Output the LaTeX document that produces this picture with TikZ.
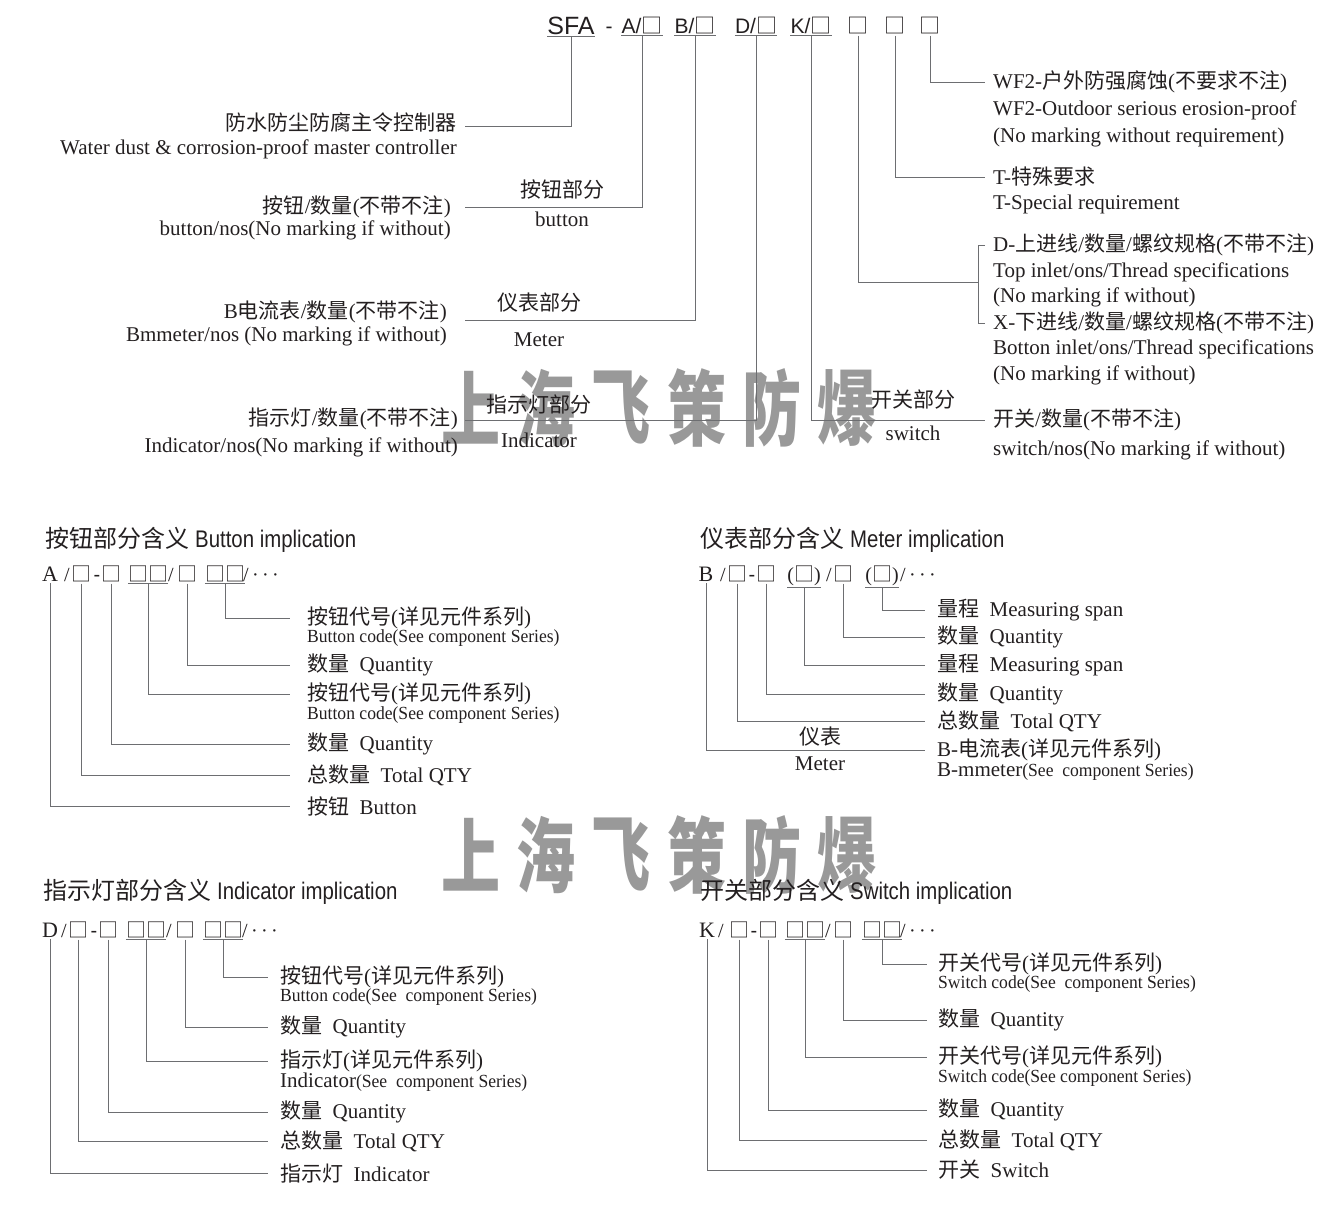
\documentclass[tikz,border=0pt]{standalone}
\usepackage{fontspec}
\setmainfont{Liberation Serif}
\newfontfamily\cjk{Noto Sans CJK SC}
\newfontfamily\wmfont{Noto Sans CJK SC}[FakeStretch=0.72]
\newfontfamily\narrowserif{Liberation Serif}[FakeStretch=0.95]
\newfontfamily\narrowsans{Liberation Sans}[FakeStretch=0.85]
\newfontfamily\plainsans{Liberation Sans}
\newcommand{\zh}[1]{{\cjk #1}}
\definecolor{txt}{HTML}{231F20}
\definecolor{ln}{HTML}{6D6E71}

\begin{document}
\begin{tikzpicture}[x=1pt, y=-1pt,
    lbl/.style={inner sep=0pt, text=txt, font=\fontsize{21}{24}\selectfont},
    sub/.style={inner sep=0pt, text=txt, font=\narrowserif\fontsize{18.5}{20}\selectfont},
    ttl/.style={inner sep=0pt, anchor=west, text=txt, font=\fontsize{24}{28}\selectfont},
    code/.style={anchor=base, inner xsep=0pt, inner ysep=2pt, text=txt, font=\fontsize{20}{24}\selectfont},
    topcode/.style={code, font=\plainsans\fontsize{21}{24}\selectfont},
    lead/.style={draw=ln, line width=1pt},
    wmark/.style={inner sep=0pt, text=black!40, font=\wmfont\bfseries\fontsize{82}{82}\selectfont}
]
\useasboundingbox (0,0) rectangle (1340,1205);

% watermark
\foreach \ch [count=\i from 0] in {上,海,飞,策,防,爆} {
  \node[wmark] (wa\i) at (471+75.2*\i,408) {\ch};
  \node[wmark] (wb\i) at (471+75.2*\i,855) {\ch};
}

% type code
\node[topcode, font=\plainsans\fontsize{25}{28}\selectfont] (sfa) at (571,34) {SFA};
\node[topcode] (dash) at (609,33) {-};
\node[topcode] (ca) at (642,33) {A/\zh{□}};
\node[topcode] (cb) at (695,33) {B/\zh{□}};
\node[topcode] (cd) at (756,33) {D/\zh{□}};
\node[topcode] (ck) at (811,33) {K/\zh{□}};
\node[topcode] (bx1) at (858,33) {\zh{□}};
\node[topcode] (bx2) at (895,33) {\zh{□}};
\node[topcode] (bx3) at (930,33) {\zh{□}};
\draw[lead] (sfa.south west) -- (sfa.south east);
\draw[lead] (ca.south west) -- (ca.south east);
\draw[lead] (cb.south west) -- (cb.south east);
\draw[lead] (cd.south west) -- (cd.south east);
\draw[lead] (ck.south west) -- (ck.south east);

% left side
\node[lbl, anchor=east] (mst) at (457,123) {\zh{防水防尘防腐主令控制器}};
\node[lbl, anchor=east] (mste) at (457,149) {Water dust \& corrosion-proof master controller};
\node[lbl, anchor=east] (btn) at (451,207) {\zh{按钮}/\zh{数量}(\zh{不带不注})};
\node[lbl, anchor=east] (btne) at (451,230) {button/nos(No marking if without)};
\node[lbl, anchor=east] (mtr) at (447,312) {B\zh{电流表}/\zh{数量}(\zh{不带不注})};
\node[lbl, anchor=east] (mtre) at (447,336) {Bmmeter/nos (No marking if without)};
\node[lbl, anchor=east] (ind) at (458,419) {\zh{指示灯}/\zh{数量}(\zh{不带不注})};
\node[lbl, anchor=east] (inde) at (458,447) {Indicator/nos(No marking if without)};

\node[lbl] (btnpart) at (562,189) {\zh{按钮部分}};
\node[lbl] (btnparte) at (562,219) {button};
\node[lbl] (mtrpart) at (539,303) {\zh{仪表部分}};
\node[lbl] (mtrparte) at (539,340) {Meter};
\node[lbl] (indpart) at (539,405) {\zh{指示灯部分}};
\node[lbl] (indparte) at (539,440) {Indicator};
\node[lbl] (swpart) at (913,400) {\zh{开关部分}};
\node[lbl] (swparte) at (913,433) {switch};

% right side
\node[lbl, anchor=west] (wf) at (993,82) {WF2-\zh{户外防强腐蚀}(\zh{不要求不注})};
\node[lbl, anchor=west] (wfe) at (993,110) {WF2-Outdoor serious erosion-proof};
\node[lbl, anchor=west] (wfe2) at (993,137) {(No marking without requirement)};
\node[lbl, anchor=west] (sp) at (993,177) {T-\zh{特殊要求}};
\node[lbl, anchor=west] (spe) at (993,204) {T-Special requirement};
\node[lbl, anchor=west] (dt) at (993,245) {D-\zh{上进线}/\zh{数量}/\zh{螺纹规格}(\zh{不带不注})};
\node[lbl, anchor=west] (dte) at (993,272) {Top inlet/ons/Thread specifications};
\node[lbl, anchor=west] (dte2) at (993,297) {(No marking if without)};
\node[lbl, anchor=west] (xb) at (993,323) {X-\zh{下进线}/\zh{数量}/\zh{螺纹规格}(\zh{不带不注})};
\node[lbl, anchor=west] (xbe) at (993,349) {Botton inlet/ons/Thread specifications};
\node[lbl, anchor=west] (xbe2) at (993,375) {(No marking if without)};
\node[lbl, anchor=west] (sw) at (993,420) {\zh{开关}/\zh{数量}(\zh{不带不注})};
\node[lbl, anchor=west] (swe) at (993,450) {switch/nos(No marking if without)};

\coordinate (mstend) at (465,126);
\coordinate (btnend) at (465,207);
\coordinate (mtrend) at (465,320);
\coordinate (indend) at (465,420);
\coordinate (brk) at (978,282);
\draw[lead] (sfa.south) |- (mstend);
\draw[lead] (ca.south) |- (btnend);
\draw[lead] (cb.south) |- (mtrend);
\draw[lead] (cd.south) |- (indend);
\draw[lead, shorten >=8pt] (ck.south) |- (sw.west);
\draw[lead] (bx1.south) |- (brk);
\draw[lead, shorten >=8pt] (bx2.south) |- (sp.west);
\draw[lead, shorten >=8pt] (bx3.south) |- (wf.west);
\draw[lead] ([xshift=-8pt]dt.west) -- ([xshift=-15pt]dt.west) -- ([xshift=-15pt]xb.west) -- ([xshift=-8pt]xb.west);

% button implication
\node[ttl] (bttl) at (45,540) {\zh{按钮部分含义} {\narrowsans Button implication}};
\node[code, font=\fontsize{22}{24}\selectfont] (ba) at (50,581) {A};
\node[code] (bs1) at (67,581) {/};
\node[code] (bb1) at (81,581) {\zh{□}};
\node[code, font=\plainsans\fontsize{20}{24}\selectfont] (bh) at (97,581) {-};
\node[code] (bb2) at (111,581) {\zh{□}};
\node[code] (bb3) at (148,581) {\zh{□□}};
\node[code] (bs2) at (171,581) {/};
\node[code] (bb4) at (187,581) {\zh{□}};
\node[code] (bb5) at (225,581) {\zh{□□}};
\node[code] (bs3) at (261,581) {/\,·\,·\,·};
\draw[lead] (bb3.south west) -- (bb3.south east);
\draw[lead] (bb5.south west) -- (bb5.south east);
\node[lbl, anchor=west] (bl1) at (307,618) {\zh{按钮代号}(\zh{详见元件系列})};
\node[sub, anchor=west] (bl1e) at (307,638) {Button code(See component Series)};
\node[lbl, anchor=west] (bl2) at (307,665) {\zh{数量}\enspace Quantity};
\node[lbl, anchor=west] (bl3) at (307,694) {\zh{按钮代号}(\zh{详见元件系列})};
\node[sub, anchor=west] (bl3e) at (307,715) {Button code(See component Series)};
\node[lbl, anchor=west] (bl4) at (307,744) {\zh{数量}\enspace Quantity};
\node[lbl, anchor=west] (bl5) at (307,775) {\zh{总数量}\enspace Total QTY};
\node[lbl, anchor=west] (bl6) at (307,806) {\zh{按钮}\enspace Button};
\draw[lead, shorten >=17pt] (bb5.south) |- (bl1.west);
\draw[lead, shorten >=17pt] (bb4.south) |- (bl2.west);
\draw[lead, shorten >=17pt] (bb3.south) |- (bl3.west);
\draw[lead, shorten >=17pt] (bb2.south) |- (bl4.west);
\draw[lead, shorten >=17pt] (bb1.south) |- (bl5.west);
\draw[lead, shorten >=17pt] (ba.south) |- (bl6.west);

% meter implication
\node[ttl] (mttl) at (700,540) {\zh{仪表部分含义} {\narrowsans Meter implication}};
\node[code, font=\fontsize{22}{24}\selectfont] (ma) at (706,581) {B};
\node[code] (ms1) at (723,581) {/};
\node[code] (mb1) at (737,581) {\zh{□}};
\node[code, font=\plainsans\fontsize{20}{24}\selectfont] (mh) at (752,581) {-};
\node[code] (mb2) at (766,581) {\zh{□}};
\node[code] (mb3) at (804,581) {(\zh{□})};
\node[code] (ms2) at (829,581) {/};
\node[code] (mb4) at (843,581) {\zh{□}};
\node[code] (mb5) at (882,581) {(\zh{□})};
\node[code] (ms3) at (918,581) {/\,·\,·\,·};
\draw[lead] (mb3.south west) -- (mb3.south east);
\draw[lead] (mb5.south west) -- (mb5.south east);
\node[lbl, anchor=west] (ml1) at (937,610) {\zh{量程}\enspace Measuring span};
\node[lbl, anchor=west] (ml2) at (937,637) {\zh{数量}\enspace Quantity};
\node[lbl, anchor=west] (ml3) at (937,665) {\zh{量程}\enspace Measuring span};
\node[lbl, anchor=west] (ml4) at (937,694) {\zh{数量}\enspace Quantity};
\node[lbl, anchor=west] (ml5) at (937,721) {\zh{总数量}\enspace Total QTY};
\node[lbl, anchor=west] (ml6) at (937,750) {B-\zh{电流表}(\zh{详见元件系列})};
\node[sub, anchor=west] (ml6e) at (937,772) {{\normalfont\fontsize{21}{24}\selectfont B-mmeter}(See\ \ component Series)};
\node[lbl] (mlm) at (820,737) {\zh{仪表}};
\node[lbl] (mlme) at (820,764) {Meter};
\draw[lead, shorten >=12pt] (mb5.south) |- (ml1.west);
\draw[lead, shorten >=12pt] (mb4.south) |- (ml2.west);
\draw[lead, shorten >=12pt] (mb3.south) |- (ml3.west);
\draw[lead, shorten >=12pt] (mb2.south) |- (ml4.west);
\draw[lead, shorten >=12pt] (mb1.south) |- (ml5.west);
\draw[lead, shorten >=12pt] (ma.south) |- (ml6.west);

% indicator implication
\node[ttl] (ittl) at (43,892) {\zh{指示灯部分含义} {\narrowsans Indicator implication}};
\node[code, font=\fontsize{22}{24}\selectfont] (ia) at (50,937) {D};
\node[code] (is1) at (64,937) {/};
\node[code] (ib1) at (78,937) {\zh{□}};
\node[code, font=\plainsans\fontsize{20}{24}\selectfont] (ih) at (94,937) {-};
\node[code] (ib2) at (108,937) {\zh{□}};
\node[code] (ib3) at (146,937) {\zh{□□}};
\node[code] (is2) at (169,937) {/};
\node[code] (ib4) at (185,937) {\zh{□}};
\node[code] (ib5) at (223,937) {\zh{□□}};
\node[code] (is3) at (260,937) {/\,·\,·\,·};
\draw[lead] (ib3.south west) -- (ib3.south east);
\draw[lead] (ib5.south west) -- (ib5.south east);
\node[lbl, anchor=west] (il1) at (280,977) {\zh{按钮代号}(\zh{详见元件系列})};
\node[sub, anchor=west] (il1e) at (280,997) {Button code(See\ \ component Series)};
\node[lbl, anchor=west] (il2) at (280,1027) {\zh{数量}\enspace Quantity};
\node[lbl, anchor=west] (il3) at (280,1061) {\zh{指示灯}(\zh{详见元件系列})};
\node[sub, anchor=west] (il3e) at (280,1082) {{\normalfont\fontsize{21}{24}\selectfont Indicator}(See\ \ component Series)};
\node[lbl, anchor=west] (il4) at (280,1112) {\zh{数量}\enspace Quantity};
\node[lbl, anchor=west] (il5) at (280,1141) {\zh{总数量}\enspace Total QTY};
\node[lbl, anchor=west] (il6) at (280,1173) {\zh{指示灯}\enspace Indicator};
\draw[lead, shorten >=12pt] (ib5.south) |- (il1.west);
\draw[lead, shorten >=12pt] (ib4.south) |- (il2.west);
\draw[lead, shorten >=12pt] (ib3.south) |- (il3.west);
\draw[lead, shorten >=12pt] (ib2.south) |- (il4.west);
\draw[lead, shorten >=12pt] (ib1.south) |- (il5.west);
\draw[lead, shorten >=12pt] (ia.south) |- (il6.west);

% switch implication
\node[ttl] (sttl) at (700,892) {\zh{开关部分含义} {\narrowsans Switch implication}};
\node[code, font=\fontsize{22}{24}\selectfont] (sa) at (707,937) {K};
\node[code] (ss1) at (721,937) {/};
\node[code] (sb1) at (739,937) {\zh{□}};
\node[code, font=\plainsans\fontsize{20}{24}\selectfont] (sh) at (754,937) {-};
\node[code] (sb2) at (768,937) {\zh{□}};
\node[code] (sb3) at (805,937) {\zh{□□}};
\node[code] (ss2) at (828,937) {/};
\node[code] (sb4) at (843,937) {\zh{□}};
\node[code] (sb5) at (882,937) {\zh{□□}};
\node[code] (ss3) at (918,937) {/\,·\,·\,·};
\draw[lead] (sb3.south west) -- (sb3.south east);
\draw[lead] (sb5.south west) -- (sb5.south east);
\node[lbl, anchor=west] (sl1) at (938,964) {\zh{开关代号}(\zh{详见元件系列})};
\node[sub, anchor=west] (sl1e) at (938,984) {Switch code(See\ \ component Series)};
\node[lbl, anchor=west] (sl2) at (938,1020) {\zh{数量}\enspace Quantity};
\node[lbl, anchor=west] (sl3) at (938,1057) {\zh{开关代号}(\zh{详见元件系列})};
\node[sub, anchor=west] (sl3e) at (938,1078) {Switch code(See component Series)};
\node[lbl, anchor=west] (sl4) at (938,1110) {\zh{数量}\enspace Quantity};
\node[lbl, anchor=west] (sl5) at (938,1140) {\zh{总数量}\enspace Total QTY};
\node[lbl, anchor=west] (sl6) at (938,1170) {\zh{开关}\enspace Switch};
\draw[lead, shorten >=11pt] (sb5.south) |- (sl1.west);
\draw[lead, shorten >=11pt] (sb4.south) |- (sl2.west);
\draw[lead, shorten >=11pt] (sb3.south) |- (sl3.west);
\draw[lead, shorten >=11pt] (sb2.south) |- (sl4.west);
\draw[lead, shorten >=11pt] (sb1.south) |- (sl5.west);
\draw[lead, shorten >=11pt] (sa.south) |- (sl6.west);
\end{tikzpicture}
\end{document}
